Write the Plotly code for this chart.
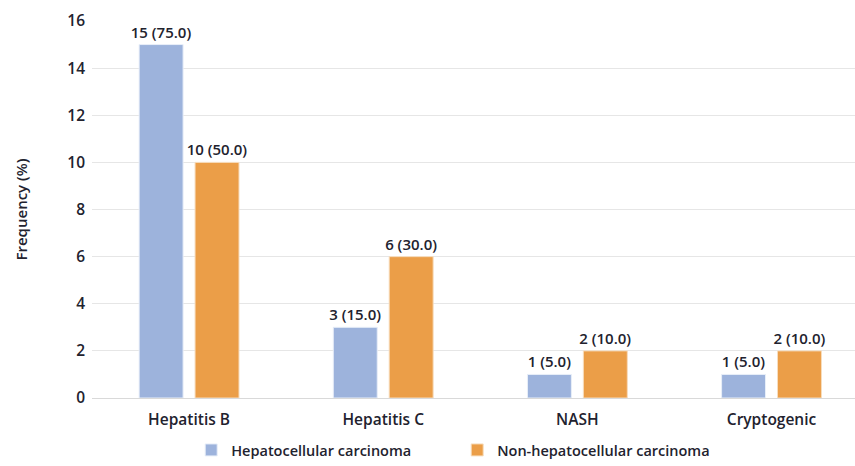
import plotly.graph_objects as go

categories = ["Hepatitis B", "Hepatitis C", "NASH", "Cryptogenic"]
hcc_counts = [15, 3, 1, 1]
hcc_pct = [75.0, 15.0, 5.0, 5.0]
non_hcc_counts = [10, 6, 2, 2]
non_hcc_pct = [50.0, 30.0, 10.0, 10.0]

FONT = "Open Sans"
TXT = "#22222E"


def labels(counts, pcts):
    return [f"{c} ({p:.1f})" for c, p in zip(counts, pcts)]


fig = go.Figure()
fig.add_trace(go.Bar(
    x=categories, y=hcc_counts, name="Hepatocellular carcinoma",
    marker=dict(color="#9DB3DC", line=dict(color="#E8EEF8", width=1)),
    text=labels(hcc_counts, hcc_pct), textposition="outside",
    constraintext="none",
    textfont=dict(family=FONT, size=15, color=TXT, weight=600),
    cliponaxis=False,
))
fig.add_trace(go.Bar(
    x=categories, y=non_hcc_counts, name="Non-hepatocellular carcinoma",
    marker=dict(color="#EB9E48", line=dict(color="#F7DDBE", width=1)),
    text=labels(non_hcc_counts, non_hcc_pct), textposition="outside",
    constraintext="none",
    textfont=dict(family=FONT, size=15, color=TXT, weight=600),
    cliponaxis=False,
))

fig.update_layout(
    width=855, height=466,
    margin=dict(l=92, r=0, t=21, b=68),
    paper_bgcolor="white", plot_bgcolor="white",
    barmode="group", bargap=0.424, bargroupgap=0.214,
    font=dict(family=FONT, size=14, color=TXT),
    showlegend=True,
    legend=dict(
        orientation="h", x=0.13, xanchor="left",
        yref="container", y=0.0, yanchor="bottom",
        entrywidth=221, entrywidthmode="pixels", itemwidth=30,
        font=dict(family=FONT, size=14.5, color=TXT, weight=600),
    ),
    xaxis=dict(
        range=[-0.5, 3.43], showgrid=False, showline=False, ticks="",
        ticklabelstandoff=10, automargin=False,
        tickfont=dict(family=FONT, size=15.5, color=TXT, weight=600),
    ),
    yaxis=dict(
        range=[0, 16], dtick=2, showgrid=True, gridcolor="#E6E6E6",
        zeroline=True, zerolinecolor="#D9D9D9", zerolinewidth=1,
        tickfont=dict(family=FONT, size=15.5, color=TXT, weight=600),
        ticklabelstandoff=6, automargin=False,
        title=dict(text="Frequency (%)", standoff=36,
                   font=dict(family=FONT, size=15, color=TXT, weight=600)),
    ),
)

fig.write_html("out.html")
